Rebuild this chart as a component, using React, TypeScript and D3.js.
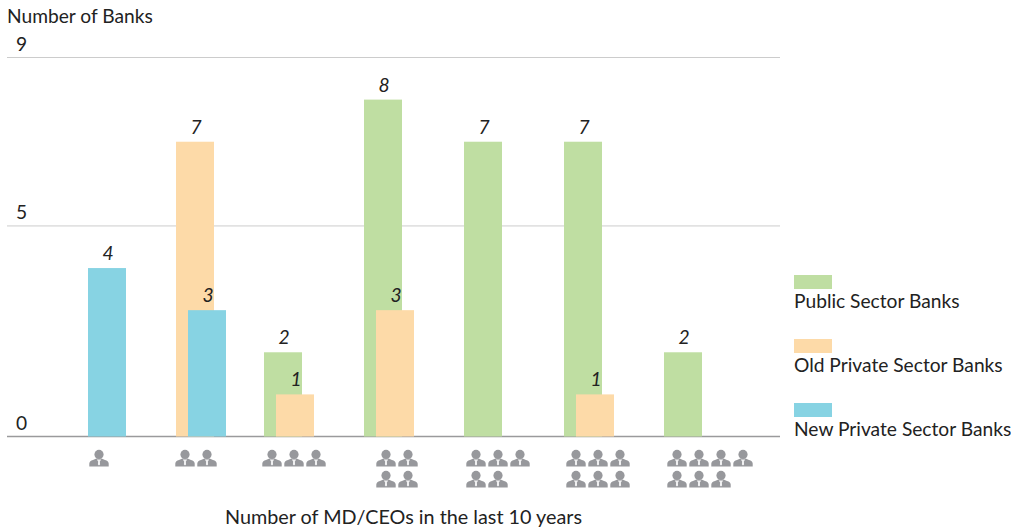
import React from "react";
import * as d3 from "d3";

const categories = ["1", "2", "3", "4", "5", "6", "7"];
const publicSector = [0, 0, 2, 8, 7, 7, 2];
const oldPrivate = [0, 7, 1, 3, 0, 1, 0];
const newPrivate = [4, 3, 0, 0, 0, 0, 0];
const yTicks = [0, 5, 9];
const seriesNames = ["Public Sector Banks", "Old Private Sector Banks", "New Private Sector Banks"];
const seriesColors = ["#bfdea2", "#fddaa8", "#87d3e3"];
const iconRows = [[1], [2], [3], [2, 2], [3, 2], [3, 3], [4, 3]];
const iconGroupLeft = [99, 185, 272, 386, 476, 576, 677];

const FONT = "Lato, 'Noto Sans', sans-serif";
const INK = "#222222";
const ICON = "#97989c";

const y = d3.scaleLinear().domain([0, 9]).range([436.5, 57.5]);
const x = d3.scaleBand<string>().domain(categories).range([64, 764]).paddingInner(0).paddingOuter(0).align(0);
const seriesOffset = d3.scalePoint<number>().domain([0, 1, 2]).range([0, 24]);
const BAR_W = 38;
const ICON_STEP = 22;
const ICON_ROW_STEP = 21;
const FS = 19.2;

// Business-suit figure centred on its own origin
function Person({ cx, cy }: { cx: number; cy: number }) {
  return (
    <g transform={`translate(${cx},${cy})`}>
      <circle cx={0} cy={-3.6} r={4.6} fill={ICON} />
      <path d="M-9.7,8.6 L-9.7,5.4 Q-9.4,3 -6,2 L-2.6,0.6 L2.6,0.6 L6,2 Q9.4,3 9.7,5.4 L9.7,8.6 Z" fill={ICON} />
      <path d="M-2.2,1.6 L2.2,1.6 L0.9,3.4 L1.1,6.4 L0,7.4 L-1.1,6.4 L-0.9,3.4 Z" fill="#f2f2f3" />
    </g>
  );
}

export default function App() {
  const series = [publicSector, oldPrivate, newPrivate];
  const base = y(0);
  return (
    <svg
      width={1011}
      height={529}
      style={{ position: "absolute", left: 0, top: 0, background: "#fff" }}
      fontFamily={FONT}
    >
      {yTicks.map((t) => (
        <g key={t}>
          <line
            x1={7}
            x2={780}
            y1={y(t)}
            y2={y(t)}
            stroke={t === 0 ? "#9a9a9c" : "#cccccc"}
            strokeWidth={t === 0 ? 1.5 : 1}
          />
          <text x={16} y={y(t) - 6.5} fontSize={FS} fill={INK}>
            {t}
          </text>
        </g>
      ))}
      <text x={7} y={23} fontSize={FS} fill={INK}>
        Number of Banks
      </text>

      {series.map((vals, s) =>
        vals.map((v, i) =>
          v > 0 ? (
            <rect
              key={`${s}-${i}`}
              x={x(categories[i])! + seriesOffset(s)!}
              y={y(v)}
              width={BAR_W}
              height={base - y(v)}
              fill={seriesColors[s]}
            />
          ) : null
        )
      )}
      {series.map((vals, s) =>
        vals.map((v, i) =>
          v > 0 ? (
            <text
              key={`l-${s}-${i}`}
              x={x(categories[i])! + seriesOffset(s)! + BAR_W / 2 + 1}
              y={y(v) - 8}
              textAnchor="middle"
              fontSize={FS}
              fontStyle="italic"
              fill={INK}
            >
              {v}
            </text>
          ) : null
        )
      )}

      {iconRows.map((rows, i) =>
        rows.map((count, r) =>
          d3.range(count).map((k) => (
            <Person key={`${i}-${r}-${k}`} cx={iconGroupLeft[i] + k * ICON_STEP} cy={458 + r * ICON_ROW_STEP} />
          ))
        )
      )}

      <text x={403.5} y={524} textAnchor="middle" fontSize={19.8} fill={INK}>
        Number of MD/CEOs in the last 10 years
      </text>

      {seriesNames.map((name, s) => (
        <g key={name} transform={`translate(794,${275 + s * 64})`}>
          <rect width={38} height={14} fill={seriesColors[s]} />
          <text x={0} y={33} fontSize={FS} fill={INK}>
            {name}
          </text>
        </g>
      ))}
    </svg>
  );
}
